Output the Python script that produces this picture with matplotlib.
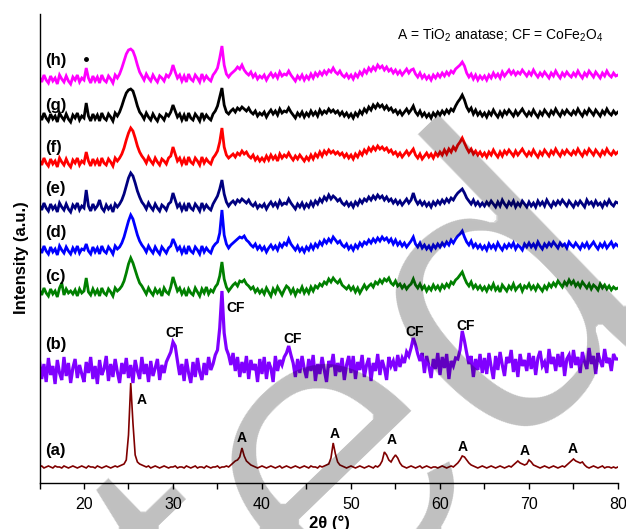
import numpy as np
import matplotlib
matplotlib.use("Agg")
import matplotlib.pyplot as plt
from matplotlib.ticker import FixedLocator, FuncFormatter

plt.rcParams['font.family'] = ['Liberation Sans', 'DejaVu Sans']
plt.rcParams['mathtext.fontset'] = 'custom'
plt.rcParams['mathtext.rm'] = 'Liberation Sans'
plt.rcParams['mathtext.it'] = 'Liberation Sans'
plt.rcParams['mathtext.default'] = 'regular'

# 2theta sampling: 15 .. 80 deg every 0.25 deg (261 points)
two_theta_start = 15.0
two_theta_step = 0.25

# intensities (a.u.), stacked
trace_a = [
16,17,15,16,17,16,15,17,16,16,15,17,16,15,16,17,16,15,16,17,
16,15,17,16,16,15,17,16,15,16,17,16,15,16,17,16,17,18,19,23,
48,100,60,28,21,19,18,17,16,17,15,16,17,16,15,16,17,16,15,16,
16,17,15,16,16,15,17,16,15,16,17,15,16,16,15,17,16,15,16,16,
17,15,16,16,17,16,18,20,22,23,26,35,27,22,20,18,17,16,15,16,
17,16,15,16,17,16,15,16,17,15,16,17,16,15,16,17,16,15,16,17,
16,15,17,16,16,15,17,16,17,18,19,25,40,29,21,18,17,16,15,16,
17,16,15,16,17,16,15,16,17,16,15,17,16,18,22,31,28,23,21,25,
28,25,20,17,16,15,16,17,16,15,16,17,15,16,17,16,15,16,16,15,
16,17,16,15,16,17,16,18,20,23,27,26,23,20,18,17,16,15,16,17,
16,15,16,17,16,15,16,17,16,15,16,17,16,18,20,22,20,19,18,19,
23,21,18,17,16,15,16,17,16,15,16,17,16,15,16,17,16,18,20,22,
24,22,21,20,21,18,16,15,16,17,16,15,16,17,15,16,16,15,16,15,
16]

trace_b = [
122,104,119,101,125,108,117,99,123,110,103,126,107,120,100,115,124,105,118,109,
101,121,110,126,104,117,99,123,108,114,127,102,119,106,124,111,100,120,109,125,
105,118,100,123,112,104,126,109,119,101,122,107,115,124,103,118,110,121,126,131,
141,137,122,108,119,102,124,110,100,121,106,125,111,103,120,108,126,113,119,128,
133,155,192,150,134,128,118,130,112,126,106,121,110,127,104,123,113,119,101,124,
109,126,104,121,115,101,127,112,123,118,126,130,137,128,120,106,124,110,127,114,
105,124,112,128,102,119,109,126,113,101,122,116,129,107,120,111,125,103,118,127,
110,127,104,121,113,128,106,118,125,102,120,112,129,108,123,115,103,126,117,122,
112,128,116,125,120,131,127,135,145,138,129,122,130,110,127,117,105,124,114,130,
108,126,115,129,104,122,117,125,124,133,152,142,130,119,127,106,124,113,129,110,
125,109,130,116,104,127,113,131,118,107,126,120,133,111,124,106,129,117,123,112,
130,114,127,108,125,132,117,121,110,134,119,126,112,129,116,131,107,124,128,115,
133,118,126,110,131,121,114,135,119,127,109,130,122,116,134,120,125,112,129,124,
124]

trace_c = [
193,188,195,190,187,194,189,192,186,195,200,188,194,190,192,189,193,187,194,190,
192,205,191,188,194,189,193,187,195,190,188,194,191,187,195,192,194,197,202,210,
219,225,220,213,206,200,197,193,189,195,191,188,194,190,193,187,195,191,189,196,
206,199,192,195,189,193,187,194,190,188,195,191,187,194,190,196,189,193,191,196,
199,207,221,204,196,192,195,198,200,197,202,201,203,199,197,194,196,191,194,190,
193,189,195,191,187,194,190,196,192,188,193,197,195,190,194,188,193,191,196,190,
194,190,196,192,197,195,199,197,201,199,204,201,205,202,200,203,198,196,194,197,
193,196,191,195,190,194,198,194,197,199,196,201,199,203,200,204,202,205,200,198,
202,197,199,195,198,194,197,199,204,198,195,199,194,197,192,196,193,198,194,197,
193,198,195,199,196,201,199,203,205,208,211,205,200,197,201,195,198,194,197,193,
196,192,197,194,199,193,196,191,198,195,192,197,194,199,193,196,198,192,197,195,
199,194,197,193,198,195,192,197,194,199,196,200,197,202,199,196,201,198,203,199,
202,197,200,196,201,198,195,199,194,198,196,193,199,195,198,194,197,193,196,194,
195]

trace_d = [
235,230,237,232,229,236,231,234,228,237,233,230,236,232,229,235,231,237,230,234,
233,239,232,229,236,231,235,229,237,232,230,236,233,229,237,234,236,240,246,254,
262,268,264,256,248,242,238,235,231,237,233,230,236,232,229,236,233,230,235,237,
244,239,233,236,230,235,229,237,232,230,236,233,229,237,231,235,232,230,236,239,
241,250,273,248,239,235,238,240,242,244,246,245,247,243,241,238,236,239,234,237,
233,236,231,235,238,234,237,233,239,236,240,238,244,239,236,233,237,232,235,231,
236,233,238,234,239,236,241,238,243,240,244,241,246,243,240,242,238,236,239,234,
237,233,238,235,240,237,241,239,243,240,244,241,245,242,246,243,245,241,244,239,
243,238,241,237,240,236,239,242,246,239,236,240,235,238,234,237,233,238,235,239,
236,240,237,241,238,243,240,244,247,249,252,246,241,238,242,236,239,235,238,234,
237,233,239,235,238,234,240,236,233,238,235,239,236,240,234,238,236,233,239,236,
240,236,239,235,241,237,234,239,236,240,237,241,238,235,240,237,239,235,241,238,
236,240,237,234,239,236,240,235,238,241,237,234,239,236,240,235,238,241,236,239,
237]

trace_e = [
278,273,280,275,272,279,274,277,271,280,276,273,279,274,271,278,275,280,273,277,
275,293,277,272,279,274,277,283,275,272,278,274,277,271,279,276,279,283,289,297,
305,310,307,300,292,286,281,278,274,280,276,273,279,275,272,278,276,273,279,281,
290,283,276,279,273,278,272,280,275,273,279,276,272,280,274,278,275,273,279,283,
287,294,303,289,281,277,280,282,279,283,281,284,282,280,283,279,277,280,275,278,
276,279,274,278,281,277,280,276,282,278,280,279,284,280,277,274,279,276,280,275,
279,276,281,277,282,279,284,281,286,283,288,284,287,285,282,284,280,278,281,277,
280,276,281,278,283,280,284,282,286,283,287,284,288,285,287,283,286,282,284,280,
283,279,282,278,281,284,280,283,290,283,279,282,278,281,277,280,276,281,278,282,
279,283,280,284,281,285,283,287,290,292,294,290,285,282,279,283,278,281,277,280,
277,281,278,282,279,276,281,277,283,279,276,281,278,282,276,280,277,282,279,276,
281,277,280,276,282,278,281,277,283,279,276,281,278,282,279,283,280,277,282,279,
276,281,278,282,279,276,283,279,281,277,282,278,280,276,281,278,283,279,277,281,
280]

trace_f = [
323,318,325,320,317,324,319,322,316,325,321,318,324,319,316,323,320,325,318,322,
320,331,322,317,324,319,323,317,325,320,318,324,321,317,325,322,325,329,335,343,
350,355,352,345,337,331,327,324,320,326,322,319,325,321,318,324,322,319,325,327,
336,329,322,325,319,324,318,326,321,319,325,322,318,326,320,324,321,319,325,328,
332,341,355,336,328,325,327,329,326,330,328,332,329,331,327,325,328,323,326,322,
325,322,327,323,328,324,327,322,329,325,328,326,330,326,323,327,324,328,325,322,
326,323,328,324,329,326,331,327,332,329,333,330,332,329,331,328,330,326,329,325,
328,324,329,326,331,328,333,330,335,332,336,333,337,334,336,333,335,331,333,329,
331,327,330,326,329,332,328,331,334,328,325,329,324,327,330,326,329,325,330,327,
331,328,333,329,334,331,336,333,338,341,345,340,335,331,334,329,332,328,331,327,
330,326,331,328,333,329,326,331,327,332,329,333,330,327,332,328,331,334,330,327,
331,328,333,329,326,331,328,333,330,327,332,329,334,330,327,332,329,333,330,328,
332,329,334,330,327,332,329,334,331,328,333,330,327,332,329,334,330,328,332,329,
331]

trace_g = [
368,363,370,365,362,369,364,367,361,370,366,363,369,364,361,368,365,370,363,367,
365,380,367,362,369,364,368,362,370,365,363,369,366,362,370,367,371,377,384,390,
393,394,392,385,377,371,368,364,370,366,363,369,365,362,368,366,363,369,367,371,
378,372,366,369,363,368,362,370,365,363,369,366,362,370,364,368,365,363,369,372,
377,386,395,378,371,369,372,374,371,375,373,376,374,372,375,371,369,372,367,370,
368,371,366,370,373,369,372,368,374,370,372,371,375,371,368,365,370,367,371,366,
370,367,372,368,371,367,373,369,372,370,374,371,373,370,372,368,371,367,370,366,
369,365,370,367,372,369,374,371,376,373,378,375,379,376,378,374,377,373,375,371,
373,369,372,368,371,374,370,373,377,371,368,372,367,370,366,369,365,370,367,371,
368,372,369,373,370,374,372,377,381,384,388,383,376,372,375,369,373,368,371,367,
370,366,371,368,373,369,366,371,367,372,369,373,370,367,372,368,371,374,370,367,
371,368,373,369,366,371,368,373,370,367,372,369,374,370,367,372,369,373,370,368,
372,369,374,370,367,372,369,374,371,368,373,370,367,372,369,374,370,368,372,369,
371]

trace_h = [
406,401,408,403,400,407,402,405,399,408,404,401,407,402,399,406,403,408,401,405,
403,415,405,400,407,402,406,400,408,403,401,407,404,400,408,405,409,415,422,429,
433,434,432,426,418,411,407,403,409,405,402,408,404,401,407,405,402,408,406,410,
418,411,405,408,402,407,401,409,404,402,408,405,401,409,403,407,404,402,408,411,
415,425,437,418,409,406,409,411,413,416,414,418,413,410,408,411,406,409,404,407,
405,408,403,407,410,406,409,405,411,407,409,408,412,408,405,402,407,404,408,403,
407,404,409,405,410,407,411,408,412,409,413,411,415,411,409,412,408,406,409,405,
408,404,409,406,411,408,413,410,415,412,416,413,418,415,417,413,416,412,414,410,
413,409,412,408,411,414,410,413,414,409,406,410,405,408,404,407,403,408,405,409,
406,410,407,411,408,412,410,414,416,418,421,417,410,406,409,404,408,403,407,404,
407,403,408,405,410,406,409,405,411,407,410,413,409,412,408,411,409,413,410,407,
411,408,413,409,406,410,407,411,408,405,410,407,412,408,405,410,407,411,408,406,
410,407,412,408,405,410,407,412,409,406,411,408,405,410,407,412,408,406,410,407,
408]

sample_labels = ['(a)', '(b)', '(c)', '(d)', '(e)', '(f)', '(g)', '(h)']
sample_label_y = [32, 138, 206, 250, 295, 336, 378, 423]
colors = ['#800000', '#8000FF', '#008000', '#0000FF', '#000080', '#FF0000', '#000000', '#FF00FF']
line_widths = [1.2, 2.3, 2.0, 2.0, 2.0, 2.0, 2.0, 2.0]

anatase_label_x = [26.5, 37.75, 48.2, 54.6, 62.6, 69.5, 74.9]
anatase_label_y = [83, 45, 49, 43, 36, 32, 34]
cf_label_x = [30.2, 37.0, 43.4, 57.2, 62.9]
cf_label_y = [150, 175, 144, 151, 157]
dot_x = [20.2]
dot_y = [424]

traces = [trace_a, trace_b, trace_c, trace_d, trace_e, trace_f, trace_g, trace_h]
lens = [len(t) for t in traces]
assert all(n == 261 for n in lens), lens

n = len(trace_a)
two_theta = two_theta_start + two_theta_step * np.arange(n)

fig = plt.figure(figsize=(6.26, 5.29), dpi=100)
ax = fig.add_axes([0.0631, 0.087, 0.9241, 0.8865])

for tr, c, lw in zip(traces, colors, line_widths):
    ax.plot(two_theta, tr, color=c, lw=lw, solid_joinstyle='miter')

ax.set_xlim(15, 80)
ax.set_ylim(0, 469)
ax.spines['top'].set_visible(False)
ax.spines['right'].set_visible(False)
ax.spines['left'].set_linewidth(1.0)
ax.spines['bottom'].set_linewidth(1.0)
ax.set_yticks([])
ax.xaxis.set_major_locator(FixedLocator(list(range(15, 81, 5))))
ax.xaxis.set_major_formatter(FuncFormatter(lambda v, p: f"{int(v)}" if int(v) % 10 == 0 else ""))
ax.tick_params(axis='x', direction='out', length=4, width=1, labelsize=11.5, pad=6)

for lab, yy in zip(sample_labels, sample_label_y):
    ax.text(15.62, yy, lab, fontsize=12, fontweight='bold', ha='left', va='center')

for xx, yy in zip(anatase_label_x, anatase_label_y):
    ax.text(xx, yy, 'A', fontsize=10, fontweight='bold', ha='center', va='center')
for xx, yy in zip(cf_label_x, cf_label_y):
    ax.text(xx, yy, 'CF', fontsize=10, fontweight='bold', ha='center', va='center')

ax.plot(dot_x, dot_y, 'o', color='black', ms=2.5)

ax.text(55.17, 448, r'A = TiO$_2$ anatase; CF = CoFe$_2$O$_4$', fontsize=10, ha='left', va='center')

fig.text(329/626, 1 - 523/529, '2θ (°)', fontsize=12, fontweight='bold', ha='center', va='center')
fig.text(22/626, 1 - 258/529, 'Intensity (a.u.)', fontsize=12, fontweight='bold',
         ha='center', va='center', rotation=90)


# watermark: thinned, translucent large text
def thin_translucent(im, dpi):
    a = im[:, :, 3].copy()
    for k in range(4):
        b = a.copy()
        b[1:, :] = np.minimum(b[1:, :], a[:-1, :])
        b[:-1, :] = np.minimum(b[:-1, :], a[1:, :])
        b[:, 1:] = np.minimum(b[:, 1:], a[:, :-1])
        b[:, :-1] = np.minimum(b[:, :-1], a[:, 1:])
        if k % 2 == 0:
            b[1:, 1:] = np.minimum(b[1:, 1:], a[:-1, :-1])
            b[:-1, :-1] = np.minimum(b[:-1, :-1], a[1:, 1:])
            b[1:, :-1] = np.minimum(b[1:, :-1], a[:-1, 1:])
            b[:-1, 1:] = np.minimum(b[:-1, 1:], a[1:, :-1])
        a = b
    out = np.zeros_like(im)
    out[..., 3] = a * 0.25
    return out, 0, 0


wm = fig.text(-596/626, -1005/529, 'Accepted', fontsize=304.6, rotation=44, rotation_mode='anchor',
              ha='left', va='baseline', color='black', zorder=10)
wm.set_agg_filter(thin_translucent)

fig.savefig('out.png', dpi=100)
